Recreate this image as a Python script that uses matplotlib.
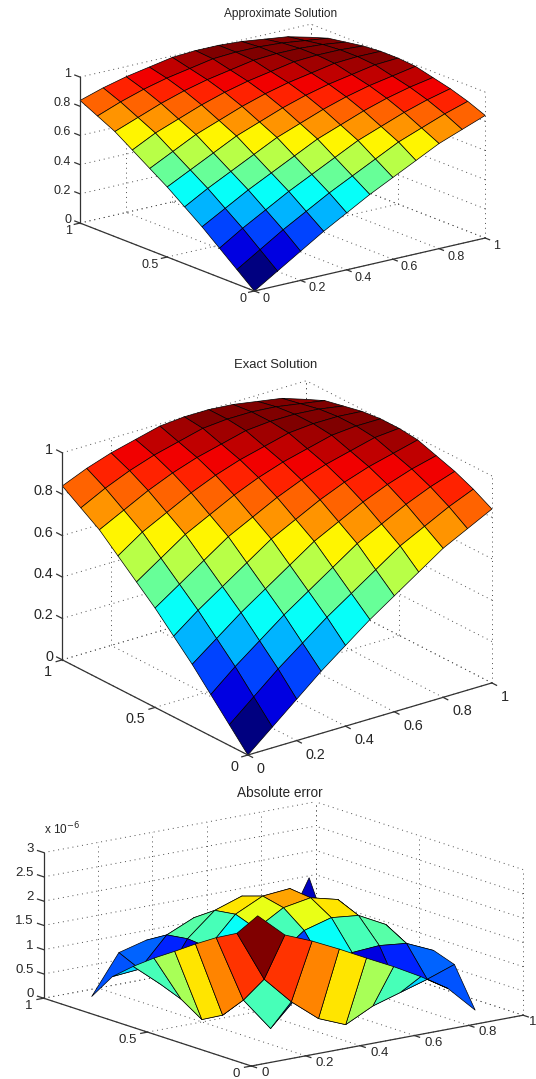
import numpy as np
import matplotlib
matplotlib.use('Agg')
import matplotlib.pyplot as plt
from matplotlib.colors import LinearSegmentedColormap
from mpl_toolkits.mplot3d import proj3d

plt.rcParams['font.family'] = ['Liberation Sans', 'DejaVu Sans']

# solution on the 11x11 grid
grid_u = [0.0, 0.1, 0.2, 0.3, 0.4, 0.5, 0.6, 0.7, 0.8, 0.9, 1.0]
u_exact = [
    [0.00, 0.10, 0.20, 0.30, 0.39, 0.48, 0.56, 0.64, 0.72, 0.78, 0.84],
    [0.10, 0.20, 0.30, 0.39, 0.48, 0.56, 0.64, 0.72, 0.78, 0.84, 0.89],
    [0.20, 0.30, 0.39, 0.48, 0.56, 0.64, 0.72, 0.78, 0.84, 0.89, 0.93],
    [0.30, 0.39, 0.48, 0.56, 0.64, 0.72, 0.78, 0.84, 0.89, 0.93, 0.96],
    [0.39, 0.48, 0.56, 0.64, 0.72, 0.78, 0.84, 0.89, 0.93, 0.96, 0.99],
    [0.48, 0.56, 0.64, 0.72, 0.78, 0.84, 0.89, 0.93, 0.96, 0.99, 1.00],
    [0.56, 0.64, 0.72, 0.78, 0.84, 0.89, 0.93, 0.96, 0.99, 1.00, 1.00],
    [0.64, 0.72, 0.78, 0.84, 0.89, 0.93, 0.96, 0.99, 1.00, 1.00, 0.99],
    [0.72, 0.78, 0.84, 0.89, 0.93, 0.96, 0.99, 1.00, 1.00, 0.99, 0.97],
    [0.78, 0.84, 0.89, 0.93, 0.96, 0.99, 1.00, 1.00, 0.99, 0.97, 0.95],
    [0.84, 0.89, 0.93, 0.96, 0.99, 1.00, 1.00, 0.99, 0.97, 0.95, 0.91],
]
u_approx = u_exact

# error only exists on the inner 9x9 nodes, in units of 1e-6
grid_err = [0.1, 0.2, 0.3, 0.4, 0.5, 0.6, 0.7, 0.8, 0.9]
err = [
    [2.85, 2.35, 2.12, 1.85, 1.56, 1.28, 0.97, 0.62, 0.07],
    [2.35, 1.30, 0.73, 0.28, 0.05, 0.33, 0.50, 0.67, 0.87],
    [2.12, 0.73, 0.04, 0.60, 1.10, 1.29, 1.33, 1.27, 1.02],
    [1.85, 0.28, 0.60, 1.28, 1.71, 1.87, 1.81, 1.52, 0.90],
    [1.56, 0.05, 1.10, 1.71, 2.04, 2.14, 2.00, 1.45, 1.00],
    [1.28, 0.33, 1.29, 1.87, 2.14, 2.19, 1.75, 1.20, 0.90],
    [0.97, 0.50, 1.33, 1.81, 2.00, 1.75, 1.40, 0.80, 0.70],
    [0.62, 0.67, 1.27, 1.52, 1.45, 1.20, 0.80, 0.25, 0.60],
    [0.07, 0.87, 1.02, 0.90, 1.00, 0.90, 0.70, 0.60, 1.68],
]

x_ticks = [0, 0.2, 0.4, 0.6, 0.8, 1]
y_ticks = [0, 0.5, 1]
z_ticks_u = [0, 0.2, 0.4, 0.6, 0.8, 1]
z_ticks_err = [0, 0.5, 1, 1.5, 2, 2.5, 3]

W, H = 536, 1079
fig = plt.figure(figsize=(W / 100, H / 100), dpi=100)
# matlab's jet is tighter than the matplotlib one
jet = LinearSegmentedColormap.from_list('matlab_jet', [
    (0, (0, 0, 0.5)), (0.125, (0, 0, 1)), (0.375, (0, 1, 1)),
    (0.625, (1, 1, 0)), (0.875, (1, 0, 0)), (1, (0.5, 0, 0))], N=64)


def to_px(ax, a, b, c):
    xp, yp, _ = proj3d.proj_transform(a, b, c, ax.get_proj())
    px, py = ax.transData.transform((xp, yp))
    return px, H - py


def fmt(v):
    return ('%g' % v)


def panel(grid, Z, zt, title, title_xy, org, x_dx, aspect, elev, azim, fs, ysh, xsh, zsh, title_fs):
    S = 1600
    ax = fig.add_axes([(W - S) / 2 / W, (H - S) / 2 / H, S / W, S / H], projection='3d')
    ax.set_proj_type('ortho')
    ax.view_init(elev=elev, azim=azim)
    ax.set_xlim(0, 1)
    ax.set_ylim(0, 1)
    ax.set_zlim(zt[0], zt[-1])
    ax.set_box_aspect(aspect, zoom=1)
    ax.apply_aspect()
    ax.set_axis_off()
    ax.patch.set_visible(False)  # 3d axes paint their patch even with the axis off
    ax.computed_zorder = False

    # scale and shift the axes so the origin lands where it should
    p0 = to_px(ax, 0, 0, 0)
    p1 = to_px(ax, 1, 0, 0)
    ax.set_box_aspect(aspect, zoom=x_dx / (p1[0] - p0[0]))
    p0 = to_px(ax, 0, 0, 0)
    pos = ax.get_position()
    ax.set_position([pos.x0 + (org[0] - p0[0]) / W, pos.y0 - (org[1] - p0[1]) / H, pos.width, pos.height])
    ax.apply_aspect()

    zmax = zt[-1]
    dot = dict(color='0.3', lw=0.7, ls=(0, (1, 4)), zorder=1)
    for v in x_ticks:
        ax.plot([v, v], [0, 1], [0, 0], **dot)
        ax.plot([v, v], [1, 1], [0, zmax], **dot)
    for v in y_ticks:
        ax.plot([0, 1], [v, v], [0, 0], **dot)
        ax.plot([1, 1], [v, v], [0, zmax], **dot)
    for v in zt:
        ax.plot([0, 1], [1, 1], [v, v], **dot)
        ax.plot([1, 1], [0, 1], [v, v], **dot)

    X, Y = np.meshgrid(grid, grid)
    Z = np.array(Z)
    colors = jet((Z - Z.min()) / (Z.max() - Z.min()))
    ax.plot_surface(X, Y, Z, facecolors=colors, rstride=1, cstride=1, shade=False,
                    edgecolor='k', linewidth=0.5, zorder=2)

    solid = dict(color='0.2', lw=0.9, zorder=3)
    ax.plot([0, 1], [0, 0], [0, 0], **solid)
    ax.plot([0, 0], [0, 1], [0, 0], **solid)
    ax.plot([0, 0], [1, 1], [0, zmax], **solid)
    for v in x_ticks:
        ax.plot([v, v], [0, -0.025], [0, 0], **solid)
        px, py = to_px(ax, v, 0, 0)
        # the last label sits right at the picture edge in the bottom plot
        fig.text(min(px + xsh[0], W - 7) / W, 1 - (py + xsh[1]) / H, fmt(v), fontsize=fs, color='0.15',
                 ha='left', va='center')
    for v in y_ticks:
        ax.plot([0, -0.025], [v, v], [0, 0], **solid)
        px, py = to_px(ax, 0, v, 0)
        fig.text((px + ysh[0]) / W, 1 - (py + ysh[1]) / H, fmt(v), fontsize=fs, color='0.15',
                 ha='right', va='center')
    for v in zt:
        ax.plot([0, 0], [1, 1.03], [v, v], **solid)
        px, py = to_px(ax, 0, 1, v)
        fig.text((px + zsh[0]) / W, 1 - (py + zsh[1]) / H, fmt(v), fontsize=fs, color='0.15',
                 ha='right', va='center')
    fig.text(title_xy[0] / W, 1 - title_xy[1] / H, title, fontsize=title_fs, color='0.15',
             ha='center', va='center')
    return ax


panel(grid_u, u_approx, z_ticks_u, 'Approximate Solution', (281, 13.5), (254.4, 291), 230.8,
      (291, 286.5, 153), 17.4, -127.5, 9, (-8, 8), (8, 8), (-9, -3), 8.6)
panel(grid_u, u_exact, z_ticks_u, 'Exact Solution', (276, 365), (247.9, 755), 244,
      (306.3, 307, 224.7), 22.9, -127.2, 10.4, (-10, 12), (9, 14), (-9, -3), 9.4)
panel(grid_err, err, z_ticks_err, 'Absolute error', (280, 793), (251.3, 1066), 271.8,
      (341.7, 345, 150.7), 14.3, -127.1, 9.5, (-11, 8), (10, 7), (-10, -4), 9.8)
fig.text(44 / W, 1 - 829 / H, r'x 10$^{-6}$', fontsize=8.5, color='0.15', ha='left', va='center',
         math_fontfamily='dejavusans')

fig.savefig('out.png', dpi=100)
